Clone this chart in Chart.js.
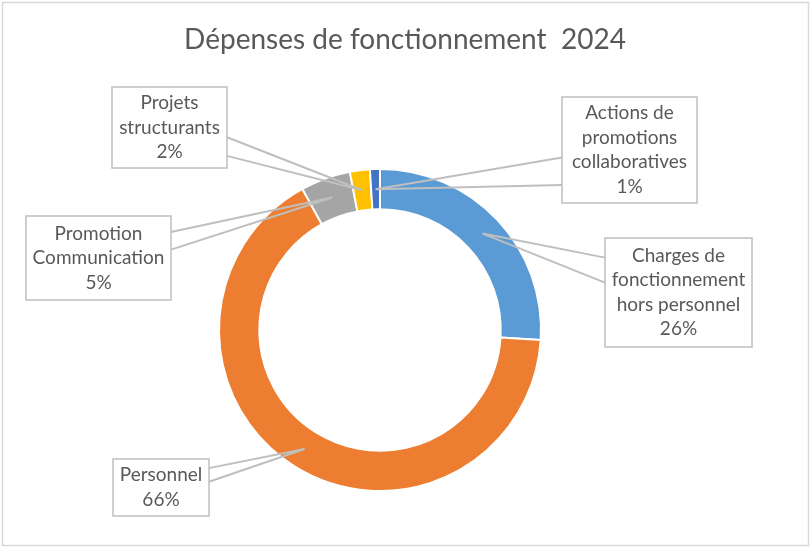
<!DOCTYPE html>
<html lang="fr">
<head>
<meta charset="utf-8">
<title>Dépenses de fonctionnement 2024</title>
<script src="https://cdn.jsdelivr.net/npm/chart.js@4/dist/chart.umd.min.js"></script>
<style>
  html, body { margin: 0; padding: 0; background: #fff; }
  #wrap { position: relative; width: 811px; height: 548px; }
</style>
</head>
<body>
<div id="wrap"><canvas id="chart" width="811" height="548"></canvas></div>
<script>
// ── Données ─────────────────────────────────────────────
const TITLE = 'Dépenses de fonctionnement  2024';

const categories = [
  'Charges de fonctionnement hors personnel',
  'Personnel',
  'Promotion Communication',
  'Projets structurants',
  'Actions de promotions collaboratives',
];
// lignes de texte des étiquettes (même ordre que categories)
const labelLines = [
  ['Charges de', 'fonctionnement', 'hors personnel'],
  ['Personnel'],
  ['Promotion', 'Communication'],
  ['Projets', 'structurants'],
  ['Actions de', 'promotions', 'collaboratives'],
];
const values = [26, 66, 5, 2, 1];
const colors = ['#5B9BD5', '#ED7D31', '#A5A5A5', '#FFC000', '#4472C4'];

// ── Mise en page des étiquettes (boîte + base du pointeur) ──
// box: x, y, w, h ; side: côté d'où part le pointeur ; base: fractions verticales
const calloutBoxes = [
  { x: 605, y: 238, w: 147, h: 109, side: 'left',  base: [0.18, 0.41] },
  { x: 113, y: 459, w: 96,  h: 57,  side: 'right', base: [0.16, 0.40] },
  { x: 26,  y: 216, w: 145, h: 84,  side: 'right', base: [0.19, 0.40] },
  { x: 112, y: 87,  w: 115, h: 81,  side: 'right', base: [0.62, 0.85] },
  { x: 562, y: 97,  w: 135, h: 106, side: 'left',  base: [0.57, 0.83] },
];

const TEXT_COLOR = '#595959';
const LINE_COLOR = '#BFBFBF';
const FONT = 'Lato, "Open Sans", sans-serif';

// ── Plugin : cadre, titre, étiquettes avec pointeurs ──
const calloutPlugin = {
  id: 'callouts',
  beforeDraw(chart) {
    const ctx = chart.ctx;
    ctx.save();
    ctx.fillStyle = '#fff';
    ctx.fillRect(0, 0, chart.width, chart.height);
    ctx.strokeStyle = '#D9D9D9';
    ctx.lineWidth = 1.5;
    ctx.strokeRect(2.5, 2.5, chart.width - 5, chart.height - 5);
    ctx.fillStyle = TEXT_COLOR;
    ctx.font = '28px ' + FONT;
    ctx.textAlign = 'center';
    ctx.textBaseline = 'middle';
    ctx.fillText(TITLE, 405, 40);
    ctx.restore();
  },
  afterDatasetsDraw(chart) {
    const ctx = chart.ctx;
    const meta = chart.getDatasetMeta(0);
    const total = values.reduce((a, b) => a + b, 0);
    ctx.save();

    // pointeurs (par-dessus l'anneau)
    meta.data.forEach((arc, i) => {
      const b = calloutBoxes[i];
      const { x, y, startAngle, endAngle, innerRadius, outerRadius } =
        arc.getProps(['x', 'y', 'startAngle', 'endAngle', 'innerRadius', 'outerRadius'], true);
      const mid = (startAngle + endAngle) / 2;
      const r = (innerRadius + outerRadius) / 2;
      const tx = x + Math.cos(mid) * r;
      const ty = y + Math.sin(mid) * r;
      const bx = b.side === 'left' ? b.x : b.x + b.w;
      ctx.strokeStyle = LINE_COLOR;
      ctx.lineWidth = 2;
      ctx.beginPath();
      ctx.moveTo(bx, b.y + b.h * b.base[0]);
      ctx.lineTo(tx, ty);
      ctx.lineTo(bx, b.y + b.h * b.base[1]);
      ctx.stroke();
    });

    // boîtes + texte
    meta.data.forEach((arc, i) => {
      const b = calloutBoxes[i];
      ctx.fillStyle = '#fff';
      ctx.fillRect(b.x, b.y, b.w, b.h);
      ctx.strokeStyle = LINE_COLOR;
      ctx.lineWidth = 1.5;
      ctx.strokeRect(b.x, b.y, b.w, b.h);

      const lines = labelLines[i].concat(Math.round(values[i] / total * 100) + '%');
      const lh = 24.5;
      const cx = b.x + b.w / 2;
      const cy = b.y + b.h / 2;
      ctx.fillStyle = TEXT_COLOR;
      ctx.font = '19px ' + FONT;
      ctx.textAlign = 'center';
      ctx.textBaseline = 'middle';
      lines.forEach((t, k) => {
        ctx.fillText(t, cx, cy + (k - (lines.length - 1) / 2) * lh);
      });
    });
    ctx.restore();
  },
};

new Chart(document.getElementById('chart'), {
  type: 'doughnut',
  data: {
    labels: categories,
    datasets: [{
      data: values,
      backgroundColor: colors,
      borderColor: '#ffffff',
      borderWidth: 2,
      hoverOffset: 0,
    }],
  },
  options: {
    responsive: false,
    animation: false,
    cutout: '75%',
    rotation: 0,
    layout: { padding: { left: 218, right: 269, top: 168, bottom: 56 } },
    plugins: {
      legend: { display: false },
      tooltip: { enabled: false },
      title: { display: false },
    },
  },
  plugins: [calloutPlugin],
});
</script>
</body>
</html>
